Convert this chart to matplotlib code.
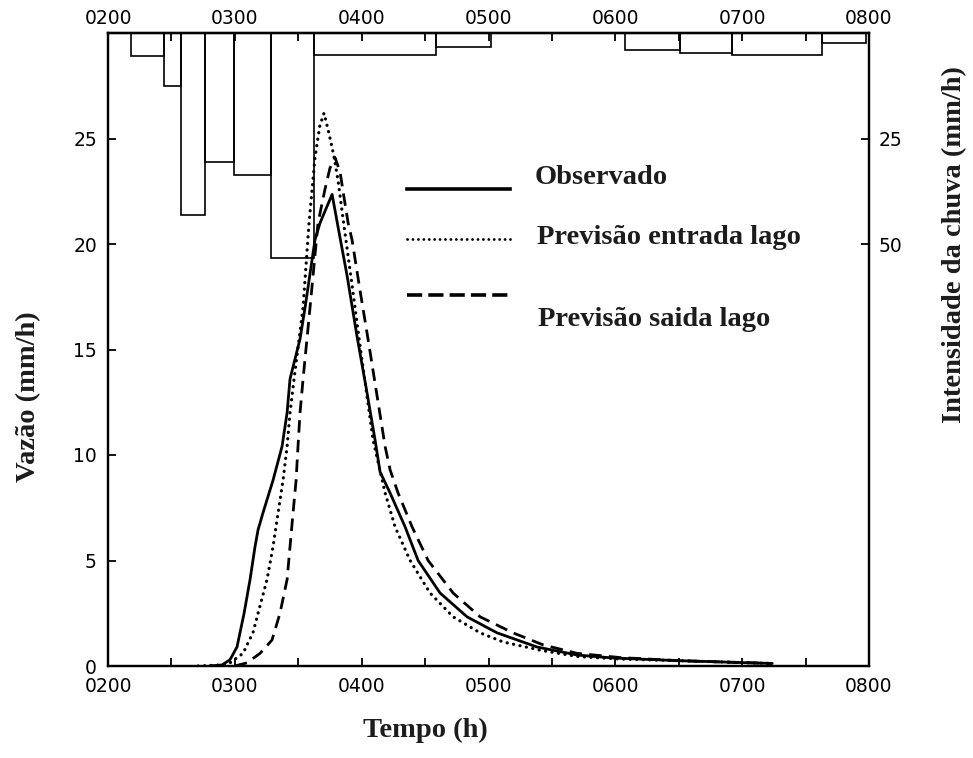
import matplotlib
matplotlib.use("Agg")
import matplotlib.pyplot as plt
from matplotlib.lines import Line2D

# Hydrograph time (decimal hours) and discharge (mm/h)
obs_t = [2.80, 2.90, 2.962, 3.017, 3.073, 3.120, 3.159, 3.183, 3.222, 3.301, 3.372,
         3.412, 3.435, 3.514, 3.554, 3.632, 3.672, 3.735, 3.767, 3.814, 3.885, 3.964,
         4.035, 4.106, 4.145, 4.224, 4.342, 4.445, 4.618, 4.831, 5.068, 5.383, 5.699,
         5.983, 6.511, 7.237]
obs_q = [0.0, 0.05, 0.3, 0.9, 2.5, 4.1, 5.65, 6.45, 7.26, 8.8, 10.4,
         12.0, 13.6, 15.5, 17.0, 20.2, 21.0, 21.9, 22.35, 20.8, 18.5, 15.6,
         13.2, 10.7, 9.2, 8.2, 6.6, 5.0, 3.46, 2.33, 1.57, 0.9, 0.52,
         0.38, 0.25, 0.12]

inflow_t = [2.71, 2.90, 2.962, 3.065, 3.144, 3.183, 3.254, 3.301, 3.341, 3.380, 3.412,
            3.435, 3.467, 3.538, 3.585, 3.632, 3.670, 3.703, 3.740, 3.780, 3.814, 3.853,
            3.930, 3.980, 4.090, 4.185, 4.263, 4.382, 4.539, 4.721, 4.934, 5.115, 5.407,
            5.700, 6.040, 6.511, 7.237]
inflow_q = [0.0, 0.05, 0.15, 0.6, 1.6, 2.5, 4.1, 5.65, 7.26, 8.8, 10.4,
            12.0, 13.6, 17.0, 21.0, 24.1, 25.6, 26.2, 25.3, 24.2, 23.0, 21.2,
            17.8, 15.5, 10.7, 8.2, 6.6, 5.0, 3.46, 2.33, 1.57, 1.14, 0.75,
            0.45, 0.33, 0.25, 0.12]

outflow_t = [3.00, 3.096, 3.199, 3.293, 3.356, 3.412, 3.435, 3.459, 3.483, 3.498, 3.514,
             3.538, 3.593, 3.656, 3.711, 3.750, 3.790, 3.830, 3.853, 3.893, 3.924, 3.987,
             4.050, 4.185, 4.224, 4.287, 4.397, 4.524, 4.721, 4.934, 5.194, 5.431, 5.699,
             6.038, 6.511, 7.237]
outflow_q = [0.0, 0.15, 0.6, 1.23, 2.5, 4.1, 5.65, 7.26, 8.8, 10.4, 12.0,
             13.6, 17.0, 21.0, 22.6, 23.6, 24.1, 23.4, 22.5, 21.0, 20.2, 17.8,
             15.5, 10.4, 9.3, 8.2, 6.6, 5.0, 3.46, 2.33, 1.57, 1.0, 0.6,
             0.4, 0.25, 0.12]

# Rainfall hyetograph: interval edges (decimal hours) and intensity (mm/h)
rain_edges_a = [2.18, 2.44, 2.576, 2.765, 2.994, 3.285, 3.625, 4.587, 5.02]
rain_int_a = [5.4, 12.6, 43.1, 30.5, 33.6, 53.2, 5.1, 3.3]
rain_edges_b = [6.077, 6.51, 6.92, 7.63, 7.98]
rain_int_b = [4.0, 4.8, 5.2, 2.3]

hour_ticks = [2, 3, 4, 5, 6, 7, 8]
hour_labels = ["0200", "0300", "0400", "0500", "0600", "0700", "0800"]
half_hour_ticks = [2.5, 3.5, 4.5, 5.5, 6.5, 7.5]
q_ticks = [0, 5, 10, 15, 20, 25]
rain_ticks = [25, 50]

series_labels = ["Observado", "Previsão entrada lago", "Previsão saida lago"]

plt.rcParams["font.family"] = ["DejaVu Sans"]

W, H = 973, 758
fig = plt.figure(figsize=(W / 100, H / 100), dpi=100)
ax = fig.add_axes([108 / W, 1 - 666 / H, (869 - 108) / W, (666 - 33) / H])

ink = "black"
ax.plot(obs_t, obs_q, color=ink, lw=2.0, solid_capstyle="round",
        solid_joinstyle="round")
ax.plot(inflow_t, inflow_q, color=ink, lw=2.3, linestyle=(0, (0.05, 2.0)),
        dash_capstyle="round")
ax.plot(outflow_t, outflow_q, color=ink, lw=2.0, linestyle=(0, (4.5, 2.6)))

ax.set_xlim(2, 8)
ax.set_ylim(0, 30)
ax.set_xticks(hour_ticks)
ax.set_xticklabels(hour_labels)
ax.set_xticks(half_hour_ticks, minor=True)
ax.set_yticks(q_ticks)

ax.tick_params(axis="x", which="both", direction="in", top=False, bottom=True,
               labeltop=False, labelbottom=True, length=6, width=1.3,
               labelsize=13.5, pad=8)
ax.tick_params(axis="y", which="both", direction="in", left=True, right=False,
               length=6, width=1.3, pad=8, labelsize=13.5)
for s in ax.spines.values():
    s.set_linewidth(1.6)

# Time axis repeated along the top
top = ax.secondary_xaxis("top")
top.set_xticks(hour_ticks)
top.set_xticklabels(hour_labels)
top.set_xticks(half_hour_ticks, minor=True)
top.tick_params(axis="x", which="both", direction="in", length=6, width=1.3,
                labelsize=13.5, pad=3.5)
top.spines["top"].set_linewidth(1.6)

# Rainfall on the inverted right axis
ax2 = ax.twinx()
ax2.set_ylim(150, 0)
ax2.bar(rain_edges_a[:-1], rain_int_a,
        width=[b - a for a, b in zip(rain_edges_a[:-1], rain_edges_a[1:])],
        align="edge", fill=False, edgecolor=ink, linewidth=1.2)
ax2.bar(rain_edges_b[:-1], rain_int_b,
        width=[b - a for a, b in zip(rain_edges_b[:-1], rain_edges_b[1:])],
        align="edge", fill=False, edgecolor=ink, linewidth=1.2)
ax2.set_yticks(rain_ticks)
ax2.tick_params(axis="y", direction="in", length=6, width=1.3, pad=7,
                labelsize=13.5)
for s in ax2.spines.values():
    s.set_linewidth(1.6)
ax2.set_xlim(2, 8)

# Axis titles
title_font = dict(family="Liberation Serif", weight="bold", size=20.5, color="#1c1c1c")
fig.text(425 / W, 1 - 730 / H, "Tempo (h)", ha="center", va="center", **title_font)
fig.text(29 / W, 1 - 397 / H, "Vazão (mm/h)", ha="center", va="center",
         rotation=90, **title_font)
fig.text(955 / W, 1 - 245 / H, "Intensidade da chuva (mm/h)", ha="center",
         va="center", rotation=90, **title_font)

# Legend keys and texts
key_styles = [dict(lw=2.6, linestyle="-"),
              dict(lw=2.0, linestyle=(0, (0.05, 1.9)), dash_capstyle="round"),
              dict(lw=2.6, linestyle=(0, (4.2, 1.7)))]
key_y = [189, 239, 295]
text_pos = [(535, 177), (537, 238), (538, 320)]
for style, ky, (tx, ty), label in zip(key_styles, key_y, text_pos, series_labels):
    fig.add_artist(Line2D([407 / W, 510 / W], [1 - ky / H, 1 - ky / H],
                          transform=fig.transFigure, color=ink, **style))
    fig.text(tx / W, 1 - ty / H, label, ha="left", va="center", **title_font)

fig.savefig("out.png", dpi=100, facecolor="white")
